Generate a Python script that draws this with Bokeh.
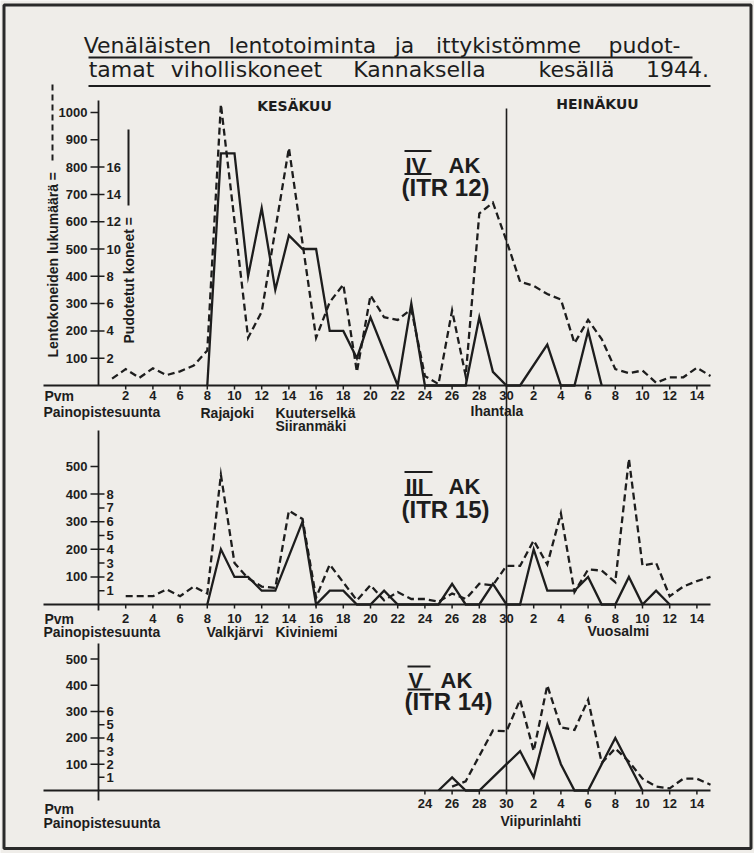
import math
from bokeh.plotting import figure
from bokeh.models import Range1d
from bokeh.embed import file_html
from bokeh.resources import INLINE
from bokeh.core.properties import value

# ---------------- data (day 1 = 1 June, July d = 30 + d) ----------------
MONTH_BREAK = 30

TOP_SORTIE_DAY = [1, 2, 3, 4, 5, 6, 7, 8, 9, 11, 12, 14, 16, 17, 18, 19, 20, 21, 22, 23, 24, 25, 26, 27,
                  28, 29, 30, 31, 32, 33, 34, 35, 36, 37, 38, 39, 40, 41, 42, 43, 44, 45]
TOP_SORTIES = [25, 60, 28, 63, 38, 52, 73, 128, 1030, 175, 270, 870, 175, 305, 370, 50, 330, 250, 240, 280,
               35, 5, 275, 35, 630, 670, 530, 380, 365, 335, 315, 155, 240, 170, 60, 45, 55, 10, 30, 30, 65, 35]
TOP_DOWN_DAY = [8, 9, 10, 11, 12, 13, 14, 15, 16, 17, 18, 19, 20, 22, 23, 24, 27, 28, 29, 30, 31, 33, 34, 35, 36, 37]
TOP_DOWNED = [0, 17, 17, 8, 13, 7, 11, 10, 10, 4, 4, 2, 5, 0, 6, 0, 0, 5, 1, 0, 0, 3, 0, 0, 4, 0]

MID_SORTIE_DAY = [2, 4, 5, 6, 7, 8, 9, 10, 11, 12, 13, 14, 15, 16, 17, 19, 20, 21, 22, 23, 24, 25, 26, 27,
                  28, 29, 30, 31, 32, 33, 34, 35, 36, 37, 38, 39, 40, 41, 42, 43, 44, 45]
MID_SORTIES = [30, 30, 55, 30, 65, 40, 470, 150, 95, 65, 60, 340, 310, 25, 145, 15, 70, 15, 45, 20, 20, 10,
               40, 20, 75, 70, 140, 140, 232, 145, 330, 45, 127, 123, 81, 528, 141, 151, 30, 65, 85, 100]
MID_DOWN_DAY = [8, 9, 10, 11, 12, 13, 15, 16, 17, 18, 19, 20, 21, 22, 25, 26, 27, 28, 29, 30, 31, 32, 33,
                35, 36, 37, 38, 39, 40, 41, 42]
MID_DOWNED = [0, 4, 2, 2, 1, 1, 6, 0, 1, 1, 0, 0, 1, 0, 0, 1.5, 0, 0, 1.5, 0, 0, 4, 1, 1, 2, 0, 0, 2, 0, 1, 0]

BOT_SORTIE_DAY = [26, 27, 29, 30, 31, 32, 33, 34, 35, 36, 37, 38, 39, 40, 41, 42, 43, 44, 45]
BOT_SORTIES = [15, 35, 228, 225, 345, 150, 400, 240, 230, 345, 105, 160, 110, 45, 15, 8, 45, 45, 22]
BOT_DOWN_DAY = [25, 26, 27, 28, 29, 30, 31, 32, 33, 34, 35, 36, 38, 40]
BOT_DOWNED = [0, 1, 0, 0, 1, 2, 3, 1, 5, 2, 0, 0, 4, 0]

FULL_XTICKS = list(range(2, 45, 2))
FULL_XLABELS = [str(d) for d in range(2, 31, 2)] + [str(d) for d in range(2, 15, 2)]
BOT_XTICKS = list(range(24, 45, 2))
BOT_XLABELS = ["24", "26", "28", "30"] + [str(d) for d in range(2, 15, 2)]

TOP_STICKS = [100, 200, 300, 400, 500, 600, 700, 800, 900, 1000]
TOP_PTICKS = [2, 4, 6, 8, 10, 12, 14, 16]
MID_STICKS = [100, 200, 300, 400, 500]
MID_PTICKS = [1, 2, 3, 4, 5, 6, 7, 8]
BOT_STICKS = [100, 200, 300, 400, 500]
BOT_PTICKS = [1, 2, 3, 4, 5, 6]

TITLE_1 = ["Venäläisten", "lentotoiminta", "ja", "ittykistömme", "pudot-"]
TITLE_2 = ["tamat", "viholliskoneet", "Kannaksella", "kesällä", "1944."]

# ---------------- figure in page pixel coordinates ----------------
INK = "#1d1d1d"
BG = "#efede9"
FONT = value("Liberation Sans")
W, H = 754, 853

p = figure(width=W, height=H, x_range=Range1d(0, W), y_range=Range1d(H, 0),
           output_backend="svg", toolbar_location=None, min_border=0,
           x_axis_location=None, y_axis_location=None,
           background_fill_color=BG, border_fill_color=BG)
p.outline_line_color = None
p.xgrid.grid_line_color = None
p.ygrid.grid_line_color = None

X_DAY0, PX_PER_DAY = 98.0, 13.6
p.extra_x_ranges["d"] = Range1d((0 - X_DAY0) / PX_PER_DAY, (W - X_DAY0) / PX_PER_DAY)

PLANE_UNIT = 50.0  # one downed plane drawn as 50 sorties
panels = {"top": (385.0, 0.273), "mid": (604.0, 0.276), "bot": (790.0, 0.263)}
for name, (ay, k) in panels.items():
    p.extra_y_ranges[name + "_s"] = Range1d((ay - H) / k, ay / k)
    p.extra_y_ranges[name + "_p"] = Range1d((ay - H) / k / PLANE_UNIT, ay / k / PLANE_UNIT)


def txt(x, y, s, size, align="left", baseline="middle", bold=True, angle=0.0, font=FONT, **kw):
    p.text(x=[x] if not isinstance(x, list) else x, y=[y] if not isinstance(y, list) else y,
           text=[s] if not isinstance(s, list) else s,
           text_font=font, text_font_size=size, text_font_style="bold" if bold else "normal",
           text_align=align, text_baseline=baseline, text_color=INK, angle=angle, **kw)


# border of the sheet
p.quad(left=[3.5], right=[750.5], top=[4.5], bottom=[848], fill_color=None, line_color="#2a2a2a", line_width=3)

# title (words centred where they sit in the justified original)
t1x = [147, 302, 404, 508, 644]
t2x = [121, 246, 419, 576, 677]
TFONT = value("DejaVu Sans")
txt(t1x, [44.5] * 5, TITLE_1, "22px", align="center", bold=False, font=TFONT)
txt(t2x, [68.5] * 5, TITLE_2, "22px", align="center", bold=False, font=TFONT)
p.segment(x0=[88, 88], x1=[692, 710], y0=[57, 85.5], y1=[57, 85.5], line_color=INK, line_width=2.2)

# month names and divider
txt(294, 105, "KESÄKUU", "14px", align="center", font=value("DejaVu Sans"))
txt(597, 103, "HEINÄKUU", "14px", align="center", font=value("DejaVu Sans"))
p.segment(x0=[MONTH_BREAK], x1=[MONTH_BREAK], y0=[108], y1=[792], x_range_name="d",
          line_color=INK, line_width=1.6)

# rotated axis titles (top panel)
txt(52, 357, "Lentokoneiden lukumäärä =", "14px", angle=math.pi / 2)
p.segment(x0=[52], x1=[52], y0=[160], y1=[83], line_color=INK, line_width=2, line_dash="6 4")
txt(128, 343, "Pudotetut koneet =", "14px", angle=math.pi / 2)
p.segment(x0=[128], x1=[128], y0=[205], y1=[129], line_color=INK, line_width=2)


def panel(name, ytop, ybot, sticks, pticks, xticks, xlabels, lab_y, pvm_y, pps_y):
    ay = panels[name][0]
    # axes lines
    p.segment(x0=[43], x1=[710], y0=[ay], y1=[ay], line_color=INK, line_width=1.8)
    p.segment(x0=[0], x1=[0], y0=[ytop], y1=[ybot], x_range_name="d", line_color=INK, line_width=1.8)
    # sorties ticks + labels
    p.segment(x0=[90] * len(sticks), x1=[98] * len(sticks), y0=sticks, y1=sticks,
              y_range_name=name + "_s", line_color=INK, line_width=1.5)
    txt([87] * len(sticks), sticks, [str(v) for v in sticks], "13px", align="right",
        y_range_name=name + "_s")
    # downed planes ticks + labels
    p.segment(x0=[98] * len(pticks), x1=[104] * len(pticks), y0=pticks, y1=pticks,
              y_range_name=name + "_p", line_color=INK, line_width=1.5)
    txt([106] * len(pticks), pticks, [str(v) for v in pticks], "13px", align="left",
        y_range_name=name + "_p")
    # date ticks
    p.segment(x0=xticks, x1=xticks, y0=[ay] * len(xticks), y1=[ay + 4] * len(xticks),
              x_range_name="d", line_color=INK, line_width=1.5)
    txt(xticks, [lab_y] * len(xticks), xlabels, "13px", align="center", x_range_name="d")
    txt(44, pvm_y, "Pvm", "14px")
    txt(43, pps_y, "Painopistesuunta", "14px")


panel("top", 100, 385, TOP_STICKS, TOP_PTICKS, FULL_XTICKS, FULL_XLABELS, 395, 395, 411)
panel("mid", 430, 610, MID_STICKS, MID_PTICKS, FULL_XTICKS, FULL_XLABELS, 618, 618, 631)
panel("bot", 643, 800, BOT_STICKS, BOT_PTICKS, BOT_XTICKS, BOT_XLABELS, 803, 808, 822)

# place names
for x, y, s in [(200, 412, "Rajajoki"), (275, 412, "Kuuterselkä"), (275, 425, "Siiranmäki"),
                (470, 410, "Ihantala"), (206, 631, "Valkjärvi"), (275, 631, "Kiviniemi"),
                (587, 630, "Vuosalmi"), (500, 820, "Viipurinlahti")]:
    txt(x, y, s, "14px")

# corps labels with roman numeral bars
for (rx0, rx1, roman, akx, mid_y, itr, itr_y) in [
        (404, 431, "IV", 448, 164.5, "(ITR 12)", 186.5),
        (404, 432, "III", 448, 485.5, "(ITR 15)", 509),
        (407, 430, "V", 440, 680, "(ITR 14)", 700.5)]:
    txt(rx0 + 1, mid_y, roman, "22px")
    txt(akx, mid_y, "AK", "22px")
    txt(rx0 - 3, itr_y, itr, "24px")
    p.segment(x0=[rx0, rx0], x1=[rx1, rx1], y0=[mid_y - 14, mid_y + 9], y1=[mid_y - 14, mid_y + 9],
              line_color=INK, line_width=2)

# data series
for name, sd, sv, dd, dv in [("top", TOP_SORTIE_DAY, TOP_SORTIES, TOP_DOWN_DAY, TOP_DOWNED),
                             ("mid", MID_SORTIE_DAY, MID_SORTIES, MID_DOWN_DAY, MID_DOWNED),
                             ("bot", BOT_SORTIE_DAY, BOT_SORTIES, BOT_DOWN_DAY, BOT_DOWNED)]:
    p.line(x=sd, y=sv, x_range_name="d", y_range_name=name + "_s", line_color=INK,
           line_width=2.3, line_dash="7 4", line_join="miter")
    p.line(x=dd, y=dv, x_range_name="d", y_range_name=name + "_p", line_color=INK,
           line_width=2.3, line_join="miter")

open("out.html", "w").write(file_html(p, INLINE))
